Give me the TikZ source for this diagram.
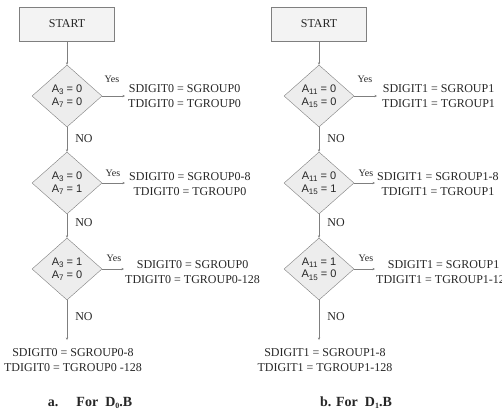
\documentclass[tikz,border=0pt]{standalone}
\usepackage{fontspec}
\setmainfont{Liberation Serif}
\newfontfamily\diafont{Liberation Sans}
\usetikzlibrary{shapes.geometric,arrows.meta}
\definecolor{line-gray}{HTML}{7F7F7F}
\definecolor{box-fill}{HTML}{F3F3F3}
\definecolor{dia-fill}{HTML}{EDEDED}
\definecolor{text-dark}{HTML}{262626}
\newcommand{\ix}[1]{\raisebox{-0.35ex}{\fontsize{8}{8}\selectfont #1}}

\begin{document}
\begin{tikzpicture}[x=1pt, y=-1pt, text=text-dark,
    startbox/.style={draw=line-gray, fill=box-fill, minimum width=95pt,
          minimum height=34pt, font=\fontsize{12}{14}\selectfont},
    decide/.style={diamond, draw=line-gray, fill=dia-fill, aspect=1.1,
          inner sep=0pt, minimum width=70pt, minimum height=62pt,
          align=center, font=\diafont\fontsize{11}{12.5}\selectfont},
    result/.style={align=center, inner sep=0pt,
          font=\fontsize{12}{15.5}\selectfont},
    yeslbl/.style={inner sep=0pt, font=\fontsize{10}{12}\selectfont},
    nolbl/.style={inner sep=0pt, font=\fontsize{12}{14}\selectfont},
    flow/.style={draw=line-gray, -{Stealth[length=2.5pt,width=2.2pt]}},
    caption/.style={inner sep=0pt, font=\bfseries\fontsize{14}{16}\selectfont}]
    \useasboundingbox (0,0) rectangle (502,415);

    % a. D0.B
    \node[startbox] (start0) at (67,24) {START};
    \node[decide] (d01) at (67,96)  {A\ix{3} = 0\\A\ix{7} = 0};
    \node[decide] (d02) at (67,183) {A\ix{3} = 0\\A\ix{7} = 1};
    \node[decide] (d03) at (67,269) {A\ix{3} = 1\\A\ix{7} = 0};
    \coordinate (y01) at (125,96);
    \coordinate (y02) at (125,183);
    \coordinate (y03) at (124,269);
    \coordinate (e0)  at (67,340);
    \draw[flow] (start0) -- (d01);
    \draw[flow] (d01) -- (d02);
    \draw[flow] (d02) -- (d03);
    \draw[flow] (d03) -- (e0);
    \draw[flow] (d01.east) -- (y01);
    \draw[flow] (d02.east) -- (y02);
    \draw[flow] (d03.east) -- (y03);
    \node[yeslbl] at (112,79)  {Yes};
    \node[yeslbl] at (113,173) {Yes};
    \node[yeslbl] at (114,258) {Yes};
    \node[nolbl] at (84,139) {NO};
    \node[nolbl] at (84,223) {NO};
    \node[nolbl] at (84,317) {NO};
    \node[result, anchor=west] (r01) at (128,96)
          {SDIGIT0 = SGROUP0\\TDIGIT0 = TGROUP0};
    \node[result, anchor=west] (r02) at (129,184)
          {SDIGIT0 = SGROUP0-8\\TDIGIT0 = TGROUP0};
    \node[result, anchor=west] (r03) at (125,272)
          {SDIGIT0 = SGROUP0\\TDIGIT0 = TGROUP0-128};
    \node[result] (r04) at (73,360)
          {SDIGIT0 = SGROUP0-8\\TDIGIT0 = TGROUP0 -128};
    \node[caption] (cap0) at (90,403) {a.\hspace{1.3em}For\ \ D\ix{0}.B};

    % b. D1.B
    \node[startbox] (start1) at (319,24) {START};
    \node[decide] (d11) at (319,96)  {A\ix{11} = 0\\A\ix{15} = 0};
    \node[decide] (d12) at (319,183) {A\ix{11} = 0\\A\ix{15} = 1};
    \node[decide] (d13) at (319,269) {A\ix{11} = 1\\A\ix{15} = 0};
    \coordinate (y11) at (377,96);
    \coordinate (y12) at (375,183);
    \coordinate (y13) at (375,269);
    \coordinate (e1)  at (319,340);
    \draw[flow] (start1) -- (d11);
    \draw[flow] (d11) -- (d12);
    \draw[flow] (d12) -- (d13);
    \draw[flow] (d13) -- (e1);
    \draw[flow] (d11.east) -- (y11);
    \draw[flow] (d12.east) -- (y12);
    \draw[flow] (d13.east) -- (y13);
    \node[yeslbl] at (365,79)  {Yes};
    \node[yeslbl] at (366,173) {Yes};
    \node[yeslbl] at (366,258) {Yes};
    \node[nolbl] at (336,139) {NO};
    \node[nolbl] at (336,223) {NO};
    \node[nolbl] at (336,317) {NO};
    \node[result, anchor=west] (r11) at (382,96)
          {SDIGIT1 = SGROUP1\\TDIGIT1 = TGROUP1};
    \node[result, anchor=west] (r12) at (377,184)
          {SDIGIT1 = SGROUP1-8\\TDIGIT1 = TGROUP1};
    \node[result, anchor=west] (r13) at (376,272)
          {SDIGIT1 = SGROUP1\\TDIGIT1 = TGROUP1-128};
    \node[result] (r14) at (325,360)
          {SDIGIT1 = SGROUP1-8\\TDIGIT1 = TGROUP1-128};
    \node[caption] (cap1) at (356,403) {b. For\ \ D\ix{1}.B};
  \end{tikzpicture}
\end{document}
